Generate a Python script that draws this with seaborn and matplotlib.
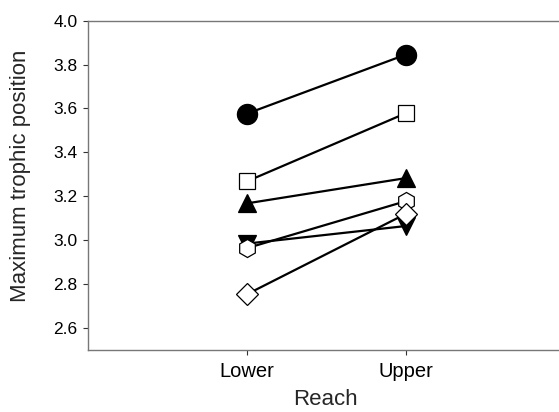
import pandas as pd
import matplotlib.pyplot as plt
import seaborn as sns

sns.set_style("ticks")
plt.rcParams['font.family'] = ['Liberation Sans', 'DejaVu Sans']

# data
reach = ["Lower", "Upper"]
circle = [3.576, 3.845]
square = [3.268, 3.578]
tri_up = [3.168, 3.283]
tri_down = [2.985, 3.065]
hexagon = [2.964, 3.178]
diamond = [2.754, 3.120]

series = [
    ("circle", circle, "o", "black", 14.5),
    ("square", square, "s", "white", 12),
    ("tri_up", tri_up, "^", "black", 13),
    ("tri_down", tri_down, "v", "black", 13),
    ("hexagon", hexagon, "h", "white", 13),
    ("diamond", diamond, "D", "white", 11),
]

fig = plt.figure(figsize=(5.59, 4.12), dpi=100)
ax = fig.add_axes([0.157, 0.15, 0.85, 0.8])

for name, vals, m, fc, ms in series:
    df = pd.DataFrame({"reach": reach, "value": vals})
    sns.lineplot(data=df, x="reach", y="value", ax=ax, color="black",
                 lw=1.6, marker=m, ms=ms, markerfacecolor=fc,
                 markeredgecolor="black", markeredgewidth=0.9)

yticks = [2.6, 2.8, 3.0, 3.2, 3.4, 3.6, 3.8, 4.0]
ax.set_xlim(-1, 1.99)
ax.set_ylim(2.5, 4.0)
ax.set_yticks(yticks)
ax.set_yticklabels([f"{v:.1f}" for v in yticks])
ax.set_xlabel("Reach", fontsize=16, labelpad=6)
ax.set_ylabel("Maximum trophic position", fontsize=16)
ax.yaxis.set_label_coords(-0.12, 0.53)
ax.tick_params(length=3.5, width=0.8, colors="#333333", labelcolor="black")
ax.tick_params(axis="y", labelsize=12.5, pad=4)
ax.tick_params(axis="x", labelsize=14.5, pad=5)
ax.spines["right"].set_visible(False)
for s in ["left", "top", "bottom"]:
    ax.spines[s].set_color("#777777")
    ax.spines[s].set_linewidth(1.0)

fig.savefig("out.png", dpi=100)
